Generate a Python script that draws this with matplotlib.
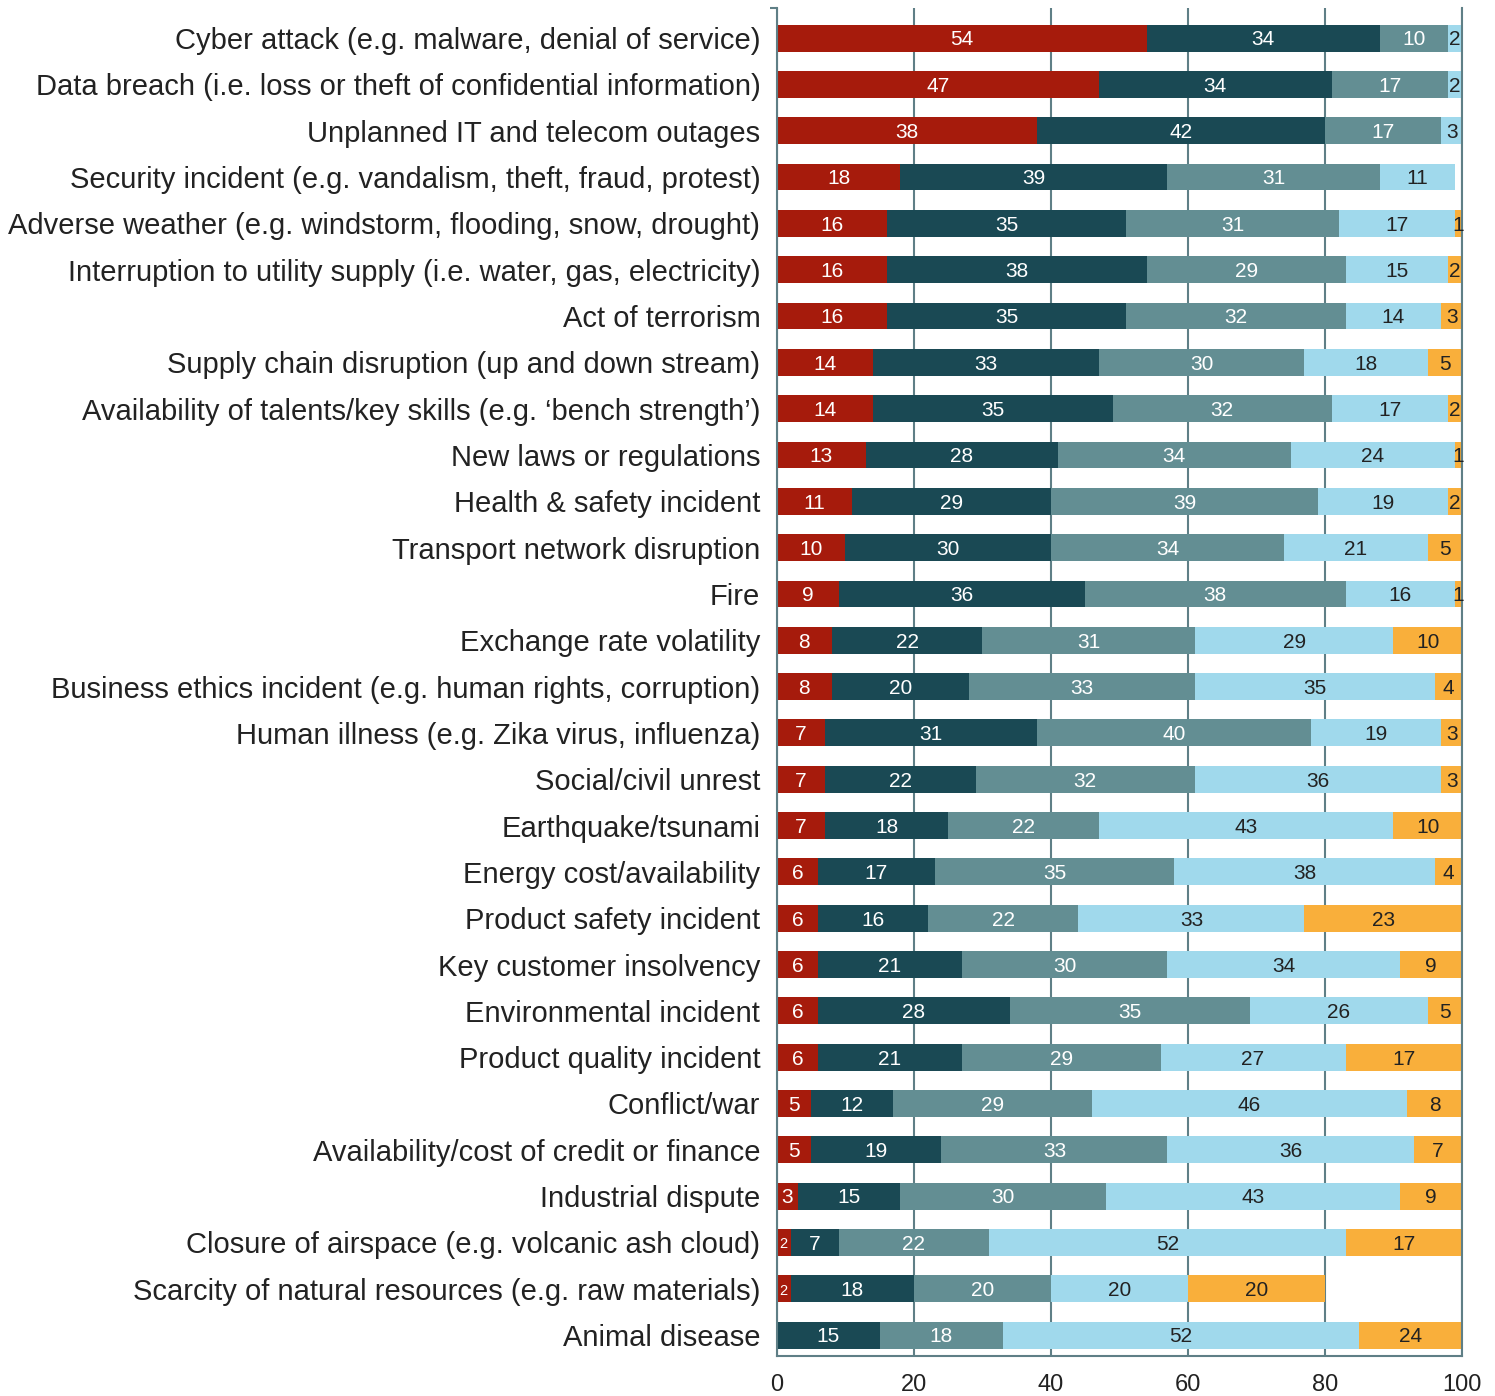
import matplotlib.pyplot as plt
import numpy as np

plt.rcParams['font.family'] = ['Liberation Sans', 'DejaVu Sans']

# risk categories, top to bottom
risks = [
    "Cyber attack (e.g. malware, denial of service)",
    "Data breach (i.e. loss or theft of confidential information)",
    "Unplanned IT and telecom outages",
    "Security incident (e.g. vandalism, theft, fraud, protest)",
    "Adverse weather (e.g. windstorm, flooding, snow, drought)",
    "Interruption to utility supply (i.e. water, gas, electricity)",
    "Act of terrorism",
    "Supply chain disruption (up and down stream)",
    "Availability of talents/key skills (e.g. \u2018bench strength\u2019)",
    "New laws or regulations",
    "Health & safety incident",
    "Transport network disruption",
    "Fire",
    "Exchange rate volatility",
    "Business ethics incident (e.g. human rights, corruption)",
    "Human illness (e.g. Zika virus, influenza)",
    "Social/civil unrest",
    "Earthquake/tsunami",
    "Energy cost/availability",
    "Product safety incident",
    "Key customer insolvency",
    "Environmental incident",
    "Product quality incident",
    "Conflict/war",
    "Availability/cost of credit or finance",
    "Industrial dispute",
    "Closure of airspace (e.g. volcanic ash cloud)",
    "Scarcity of natural resources (e.g. raw materials)",
    "Animal disease",
]

# percentage of respondents per concern level
extreme = [54, 47, 38, 18, 16, 16, 16, 14, 14, 13, 11, 10, 9, 8, 8, 7, 7, 7,
           6, 6, 6, 6, 6, 5, 5, 3, 2, 2, 0]
high = [34, 34, 42, 39, 35, 38, 35, 33, 35, 28, 29, 30, 36, 22, 20, 31, 22, 18,
        17, 16, 21, 28, 21, 12, 19, 15, 7, 18, 15]
moderate = [10, 17, 17, 31, 31, 29, 32, 30, 32, 34, 39, 34, 38, 31, 33, 40, 32, 22,
            35, 22, 30, 35, 29, 29, 33, 30, 22, 20, 18]
low = [2, 2, 3, 11, 17, 15, 14, 18, 17, 24, 19, 21, 16, 29, 35, 19, 36, 43,
       38, 33, 34, 26, 27, 46, 36, 43, 52, 20, 52]
none_ = [0, 0, 0, 0, 1, 2, 3, 5, 2, 1, 2, 5, 1, 10, 4, 3, 3, 10,
         4, 23, 9, 5, 17, 8, 7, 9, 17, 20, 24]

series = [extreme, high, moderate, low, none_]
colors = ["#A61B0C", "#1A4954", "#638E93", "#A0D9EC", "#F9AF3B"]
text_colors = ["white", "white", "white", "#222222", "#222222"]
grid_col = "#5F7F86"

fig = plt.figure(figsize=(14.95, 13.96), dpi=100)
ax = fig.add_axes([0.5197, 0.0287, 0.4582, 0.9656])

y = np.arange(len(risks))
left = np.zeros(len(risks))
for vals, col, tcol in zip(series, colors, text_colors):
    vals = np.array(vals, dtype=float)
    ax.barh(y, vals, left=left, height=0.58, color=col, zorder=2)
    for i, v in enumerate(vals):
        if v <= 0:
            continue
        right = min(left[i] + v, 100)
        cx = (left[i] + right) / 2
        small = v <= 2 and col == colors[0]
        ax.text(cx, y[i] + 0.04, f"{int(v)}", ha="center", va="center",
                color=tcol, fontsize=10.5 if small else 15, zorder=3)
    left += vals

ax.set_xlim(0, 100)
ax.set_ylim(len(risks) - 0.55, -0.65)
ax.set_xticks([0, 20, 40, 60, 80, 100])
ax.set_yticks(y)
ax.set_yticklabels(risks, fontsize=21, color="#222222")
ax.set_yticks([-0.65], minor=True)
ax.tick_params(axis="y", which="major", length=0, pad=12)
ax.tick_params(axis="y", which="minor", length=5, width=1.5, color=grid_col)
ax.tick_params(axis="x", length=0, pad=13, labelsize=17, labelcolor="#222222")
ax.grid(axis="x", color=grid_col, linewidth=1.5, zorder=0)
ax.set_axisbelow(True)
for side in ["left", "bottom", "right"]:
    ax.spines[side].set_color(grid_col)
    ax.spines[side].set_linewidth(1.5)
ax.spines["top"].set_visible(False)

fig.savefig("out.png", dpi=100)
